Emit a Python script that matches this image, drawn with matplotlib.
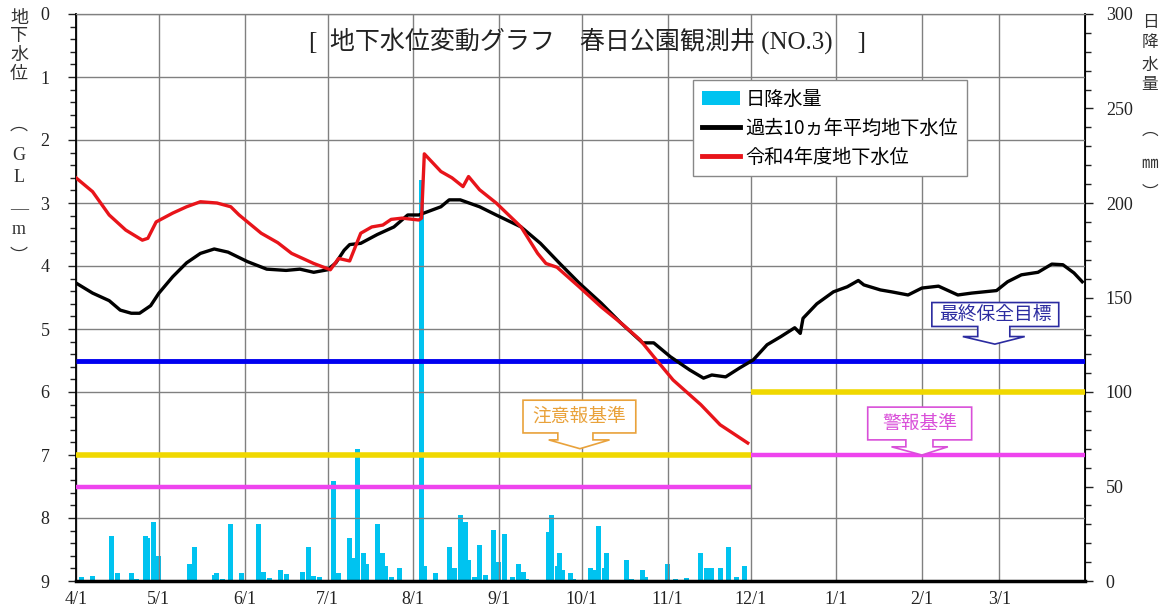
import matplotlib.pyplot as plt
from matplotlib.patches import Polygon, Patch
from matplotlib.lines import Line2D
from matplotlib.ticker import MultipleLocator

plt.rcParams['font.family'] = ['Liberation Serif', 'Noto Sans CJK JP']

# days counted from 4/1 (day 0) to next 4/1 (day 365)
month_days = [0, 30, 61, 91, 122, 153, 183, 214, 244, 275, 306, 334]
month_labels = ['4/1', '5/1', '6/1', '7/1', '8/1', '9/1', '10/1', '11/1', '12/1', '1/1', '2/1', '3/1']

# past 10 year average groundwater level (GL-m)
avg_day = [0, 6, 12, 16, 20, 23, 27, 30, 35, 40, 45, 50, 55, 62, 69, 76, 81, 86, 91, 94,
           97, 99, 103, 109, 115, 120, 124, 132, 135, 139, 146, 152, 161, 168, 175, 182, 190, 197, 205, 209,
           215, 222, 227, 230, 235, 240, 245, 250, 255, 260, 262, 263, 268, 274, 279, 283, 285, 291, 295, 301,
           306, 312, 319, 324, 333, 337, 342, 348, 353, 357, 361, 364]
avg_level = [4.27, 4.43, 4.55, 4.70, 4.75, 4.75, 4.63, 4.43, 4.17, 3.95, 3.80, 3.73, 3.78, 3.93, 4.05, 4.07, 4.05, 4.10, 4.06, 3.95,
             3.75, 3.66, 3.64, 3.50, 3.38, 3.19, 3.19, 3.06, 2.95, 2.95, 3.06, 3.19, 3.38, 3.64, 3.96, 4.27, 4.59, 4.90, 5.22, 5.22,
             5.44, 5.65, 5.78, 5.73, 5.76, 5.62, 5.49, 5.25, 5.12, 4.98, 5.07, 4.83, 4.60, 4.41, 4.33, 4.23, 4.30, 4.38, 4.41, 4.46,
             4.35, 4.32, 4.46, 4.43, 4.39, 4.25, 4.14, 4.10, 3.97, 3.98, 4.11, 4.25]

# R4 groundwater level (GL-m)
r4_day = [0, 6, 12, 18, 24, 26, 29, 35, 40, 45, 51, 56, 59, 67, 73, 78, 86, 92, 95, 99,
          103, 107, 111, 114, 118, 124, 125, 126, 132, 136, 140, 142, 146, 152, 161, 167, 170, 174, 182, 190,
          197, 204, 209, 216, 226, 233, 243]
r4_level = [2.60, 2.82, 3.19, 3.43, 3.59, 3.56, 3.30, 3.16, 3.06, 2.98, 3.00, 3.06, 3.19, 3.48, 3.63, 3.80, 3.96, 4.06, 3.88, 3.92,
            3.48, 3.38, 3.35, 3.26, 3.24, 3.27, 3.24, 2.22, 2.50, 2.60, 2.74, 2.58, 2.79, 3.00, 3.38, 3.80, 3.96, 4.02, 4.33, 4.65,
            4.90, 5.17, 5.44, 5.81, 6.20, 6.52, 6.81]

# daily rainfall (mm)
rain_day = [2, 6, 13, 15, 20, 22, 25, 26, 28, 30, 41, 43, 50, 51, 53, 56, 60, 66, 68, 70,
            74, 76, 82, 84, 86, 88, 93, 95, 99, 100, 102, 104, 105, 109, 111, 112, 114, 117, 125, 126,
            130, 135, 137, 139, 141, 142, 144, 146, 148, 151, 153, 155, 158, 160, 162, 163, 171, 172, 174, 175,
            176, 179, 180, 186, 188, 189, 191, 192, 199, 201, 205, 206, 214, 217, 221, 226, 228, 230, 233, 236,
            239, 242]
rain_mm = [2, 2.5, 24, 4, 4, 1, 24, 23, 31, 13, 9, 18, 3, 4, 1, 30, 4, 30, 5, 1.5,
           6, 3.5, 5, 18, 2.5, 2, 53, 4, 23, 12, 70, 15, 9, 30, 15, 8, 2, 7, 212, 8,
           4, 18, 7, 35, 31, 11, 2, 19, 3, 27, 10, 25, 2, 9, 5, 1, 26, 35, 8, 15,
           6, 4, 1, 7, 6, 29, 7, 15, 11, 1, 6, 2, 9, 1, 1.5, 15, 7, 7, 7, 18,
           2, 8]

# reference levels (GL-m): before / after 12/1
switch_day = 244
target_level = 5.5
caution_level = [7.0, 6.0]
alarm_level = [7.5, 7.0]

W, H = 1169, 613
fig = plt.figure(figsize=(W / 100, H / 100), dpi=100)
ax = fig.add_axes([76 / W, 32 / H, 1009 / W, 567 / H])
ax2 = ax.twinx()

# bars behind the level lines
ax.set_zorder(ax2.get_zorder() + 1)
ax.patch.set_visible(False)
ax2.bar(rain_day, rain_mm, width=1.8, color='#00C3F0', zorder=2)
ax2.set_ylim(0, 300)
ax2.set_yticks(range(0, 301, 50))
ax2.yaxis.set_minor_locator(MultipleLocator(10))
ax2.tick_params(axis='y', which='major', length=6, width=1, labelsize=13, pad=9, colors='#222222')
ax2.tick_params(axis='y', which='minor', length=4, width=1, colors='#222222')

ax.set_xlim(0, 365)
ax.set_ylim(9, 0)
ax.set_xticks(month_days)
ax.set_xticklabels(month_labels)
ax.set_yticks(range(0, 10))
ax.yaxis.set_minor_locator(MultipleLocator(0.2))
ax.tick_params(axis='y', which='major', length=6, width=1, labelsize=13, pad=13, colors='#222222')
ax.tick_params(axis='y', which='minor', length=4, width=1, colors='#222222')
ax.tick_params(axis='x', length=0, labelsize=13, pad=7, colors='#222222')
ax.grid(True, which='major', color='#808080', lw=1)

ax.spines['top'].set_color('#808080')
ax.spines['left'].set_linewidth(1.3)
ax.spines['bottom'].set_linewidth(2.5)
ax2.spines['right'].set_linewidth(1.3)

# reference lines
ax.hlines(target_level, 0, 365, color='#0000F0', lw=3.5, zorder=4)
ax.hlines(caution_level[0], 0, switch_day, color='#F0D800', lw=4, zorder=4)
ax.hlines(caution_level[1], switch_day, 365, color='#F0D800', lw=4, zorder=4)
ax.hlines(alarm_level[0], 0, switch_day, color='#EE44EE', lw=3.2, zorder=4)
ax.hlines(alarm_level[1], switch_day, 365, color='#EE44EE', lw=3.2, zorder=4)

ax.plot(avg_day, avg_level, color='black', lw=2.4, zorder=5)
ax.plot(r4_day, r4_level, color='#E8141A', lw=2.4, zorder=5)


def callout(text, x0, x1, yt, yb, n0, n1, yn, f0, f1, tip, ytip, color):
    verts = [(x0, yt), (x1, yt), (x1, yb), (n1, yb), (n1, yn), (f1, yn), (tip, ytip),
             (f0, yn), (n0, yn), (n0, yb), (x0, yb)]
    ax.add_patch(Polygon(verts, closed=True, facecolor='white', edgecolor=color, lw=1.2, zorder=6))
    ax.text((x0 + x1) / 2, (yt + yb) / 2, text, color=color, ha='center', va='center',
            fontsize=13.5, family='Noto Sans CJK JP', zorder=7)


callout('注意報基準', 161.7, 202.5, 6.13, 6.65, 174.3, 187, 6.76, 171, 193, 182.3, 6.9, '#E9A23B')
callout('警報基準', 286.4, 324, 6.24, 6.76, 300.2, 310, 6.87, 295, 315.4, 306, 7.0, '#D94FD9')
callout('最終保全目標', 309.6, 355.5, 4.58, 4.96, 326.2, 337.8, 5.12, 320.8, 343.2, 332.4, 5.24, '#2B2BA0')

# title
fig.text(309 / W, 1 - 41 / H, '[  地下水位変動グラフ　春日公園観測井 (NO.3)　]',
         ha='left', va='center', fontsize=18, color='#222222')

# legend
handles = [Patch(facecolor='#00C3F0', edgecolor='none'),
           Line2D([], [], color='black', lw=3.5),
           Line2D([], [], color='#E8141A', lw=3.5)]
labels = ['日降水量', '過去10ヵ年平均地下水位', '令和4年度地下水位']
leg = ax.legend(handles, labels, loc='upper left', bbox_to_anchor=(693 / W, 1 - 80 / H),
                bbox_transform=fig.transFigure, borderaxespad=0, fancybox=False, framealpha=1,
                edgecolor='#888888', handlelength=2.0, handletextpad=0.3, labelspacing=0.42,
                borderpad=0.45, prop={'family': 'Noto Sans CJK JP', 'size': 13.8})
leg.get_frame().set_linewidth(1)
leg.set_zorder(10)

# vertical axis titles
left_chars = ['地', '下', '水', '位', '︵', 'G', 'L', '—', 'm', '︶']
left_y = [18, 37, 55, 75, 125, 155, 177, 210, 230, 257]
for c, y in zip(left_chars, left_y):
    fig.text(19 / W, 1 - y / H, c, ha='center', va='center', fontsize=13, color='#333333')

right_chars = ['日', '降', '水', '量', '︵', '㎜', '︶']
right_y = [23, 43, 65, 85, 130, 163, 193]
for c, y in zip(right_chars, right_y):
    fig.text(1150 / W, 1 - y / H, c, ha='center', va='center', fontsize=12, color='#333333',
             family='Noto Sans CJK JP')

fig.savefig('out.png', dpi=100)
